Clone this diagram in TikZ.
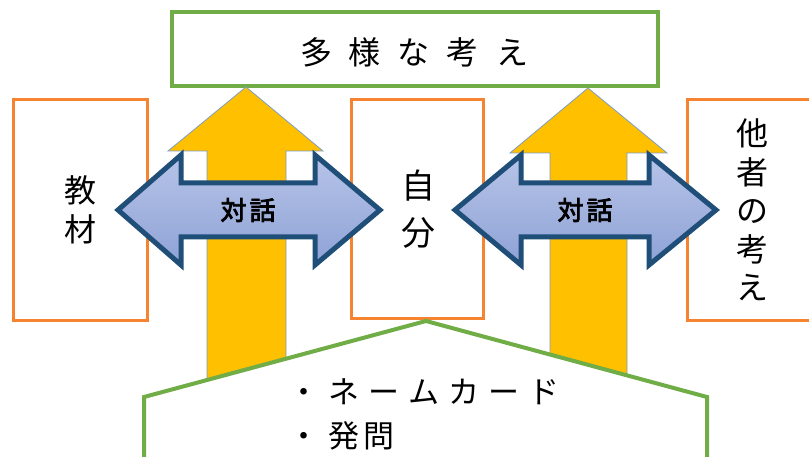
\documentclass[tikz,border=0pt]{standalone}
\usepackage{fontspec}
\newfontfamily\jp{Noto Sans CJK JP}
\newfontfamily\jpbold{Noto Sans CJK JP}[FakeBold=3]
\definecolor{orangeC}{HTML}{F5832F}
\definecolor{greenC}{HTML}{70AD47}
\definecolor{yellowC}{HTML}{FFC000}
\definecolor{yedge}{HTML}{7F9DC4}
\definecolor{navyC}{HTML}{1F4E79}
\definecolor{blueTop}{HTML}{B7C4E8}
\definecolor{blueBot}{HTML}{8EA2D6}
\begin{document}
\begin{tikzpicture}[x=1pt,y=-1pt,
  obox/.style={draw=orangeC, line width=3pt, fill=white, inner sep=0pt},
  gbox/.style={draw=greenC, line width=3.5pt, fill=white, inner sep=0pt},
  yarrow/.style={fill=yellowC, draw=yedge, line width=0.8pt},
  barrow/.style={draw=navyC, line width=5pt, line join=miter, top color=blueTop, bottom color=blueBot},
  jtxt/.style={font=\jp\fontsize{32}{38.5}\selectfont, inner sep=0pt, align=center, text=black},
  ltxt/.style={font=\jp\fontsize{31}{36}\selectfont, inner sep=0pt, anchor=west, text=black},
  dtxt/.style={font=\jpbold\fontsize{26}{30}\selectfont, inner sep=0pt, text=black},
]
\useasboundingbox (0,0) rectangle (809,457);
\clip (0,0) rectangle (809,457);
\fill[white] (0,0) rectangle (809,457);

% orange boxes
\node[obox, minimum width=134pt, minimum height=220pt] (kyozai) at (80,210) {};
\node[obox, minimum width=132pt, minimum height=218pt] (jibun) at (417,209) {};
\node[obox, minimum width=143pt, minimum height=220pt] (tasha) at (758.5,210) {};
% top green box
\node[gbox, minimum width=486pt, minimum height=74pt] (tayou) at (415,49) {};

% yellow arrows
\draw[yarrow] (246,87) -- (323,151) -- (286,151) -- (286,470) -- (207,470) -- (207,151) -- (168,151) -- cycle;
\draw[yarrow] (588,88) -- (667,153) -- (627,153) -- (627,470) -- (550,470) -- (550,153) -- (510,153) -- cycle;

% blue double arrows
\draw[barrow] (118,210) -- (181,155) -- (181,183) -- (315,183) -- (315,155) -- (380,210)
  -- (315,265) -- (315,237) -- (181,237) -- (181,265) -- cycle;
\draw[barrow] (455,210) -- (521,155) -- (521,183) -- (649,183) -- (649,155) -- (716,210)
  -- (649,265) -- (649,237) -- (521,237) -- (521,265) -- cycle;

% bottom pentagon
\draw[draw=greenC, line width=4pt, fill=white, line join=miter] (426,321) -- (707,397) -- (707,480) -- (144,480) -- (144,397) -- cycle;

% texts
\node[jtxt] (t1) at (414,52) {多\hspace{17pt}様\hspace{17pt}な\hspace{17pt}考\hspace{17pt}え};
\node[jtxt] (t2) at (kyozai) {教\\材};
\node[jtxt, font=\jp\fontsize{34}{47}\selectfont] (t3) at (418,209) {自\\分};
\node[jtxt] (t4) at (752,210) {他\\者\\の\\考\\え};
\node[dtxt] (d1) at (248,210) {対\hspace{3pt}話};
\node[dtxt] (d2) at (585,210) {対\hspace{3pt}話};
\node[ltxt] (b1) at (288,392) {・\hspace{9pt}ネ\hspace{9pt}ー\hspace{9pt}ム\hspace{9pt}カ\hspace{9pt}ー\hspace{9pt}ド};
\node[ltxt] (b2) at (288,436) {・\hspace{9pt}発\hspace{4pt}問};
\end{tikzpicture}
\end{document}
